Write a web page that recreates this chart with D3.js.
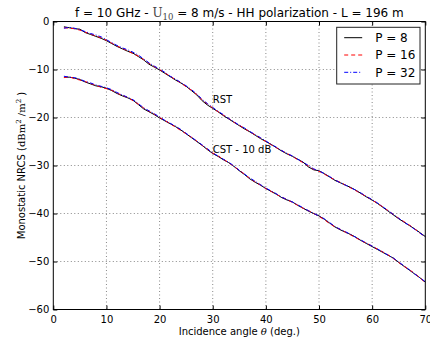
<!DOCTYPE html>
<html>
<head>
<meta charset="utf-8">
<script src="https://cdn.jsdelivr.net/npm/d3@7"></script>
<style>
  body { margin: 0; background: #fff; }
  text { font-family: "DejaVu Sans", sans-serif; fill: #000; }
  .serif { font-family: "DejaVu Serif", serif; }
</style>
</head>
<body>
<div id="chart"></div>
<script>
// incidence angles (deg.)
var angles = [2, 3, 4, 5, 6, 7, 8, 9, 10, 11,
    12, 13, 14, 15, 16, 17, 18, 19, 20, 21,
    22, 23, 24, 25, 26, 27, 28, 29, 30, 31,
    32, 33, 34, 35, 36, 37, 38, 39, 40, 41,
    42, 43, 44, 45, 46, 47, 48, 49, 50, 51,
    52, 53, 54, 55, 56, 57, 58, 59, 60, 61,
    62, 63, 64, 65, 66, 67, 68, 69, 70];

// RST curves
var rst8 = [-1.1, -1.3, -1.5, -1.6, -2.3, -2.7, -3.1, -3.5, -4.0, -4.6,
    -5.2, -5.7, -6.2, -6.6, -7.3, -8.0, -8.9, -9.5, -10.1, -10.8,
    -11.5, -12.2, -12.8, -13.5, -14.4, -15.3, -16.5, -17.4, -18.1, -18.8,
    -19.6, -20.3, -21.0, -21.7, -22.4, -23.0, -23.7, -24.4, -25.0, -25.6,
    -26.3, -27.0, -27.6, -28.1, -28.7, -29.3, -30.3, -30.9, -31.1, -31.7,
    -32.4, -33.1, -33.6, -34.1, -34.6, -35.2, -35.9, -36.6, -37.2, -37.9,
    -38.7, -39.5, -40.3, -41.1, -41.8, -42.5, -43.2, -44.0, -44.8];
var rst16 = [-1.3, -1.4, -1.5, -1.8, -2.2, -2.6, -3.0, -3.4, -3.9, -4.5,
    -5.1, -5.6, -6.1, -6.7, -7.2, -7.9, -8.7, -9.4, -10.0, -10.7,
    -11.4, -12.1, -12.8, -13.6, -14.3, -15.2, -16.3, -17.2, -18.0, -18.8,
    -19.5, -20.2, -21.0, -21.6, -22.3, -23.0, -23.6, -24.3, -25.0, -25.7,
    -26.3, -26.9, -27.5, -28.1, -28.8, -29.4, -30.1, -30.8, -31.2, -31.8,
    -32.4, -33.0, -33.5, -34.1, -34.7, -35.3, -35.9, -36.5, -37.2, -37.9,
    -38.6, -39.4, -40.2, -41.0, -41.7, -42.4, -43.2, -44.1, -44.9];
var rst32 = [-1.4, -1.2, -1.4, -1.7, -2.1, -2.5, -2.8, -3.2, -3.8, -4.4,
    -5.0, -5.5, -5.9, -6.4, -7.0, -7.8, -8.6, -9.3, -9.9, -10.6,
    -11.4, -12.0, -12.7, -13.4, -14.2, -15.1, -16.2, -17.1, -17.9, -18.7,
    -19.4, -20.2, -20.9, -21.6, -22.2, -22.9, -23.6, -24.2, -24.9, -25.6,
    -26.2, -26.9, -27.5, -28.0, -28.7, -29.3, -30.0, -30.7, -31.1, -31.7,
    -32.3, -33.0, -33.6, -34.1, -34.6, -35.2, -35.8, -36.5, -37.1, -37.8,
    -38.6, -39.4, -40.2, -41.0, -41.8, -42.5, -43.3, -44.1, -44.8];

// CST curves (shifted by -10 dB)
var cst8 = [-11.6, -11.6, -11.8, -12.1, -12.6, -13.0, -13.4, -13.6, -13.9, -14.4,
    -15.0, -15.5, -15.9, -16.4, -17.3, -18.2, -18.8, -19.4, -20.1, -20.7,
    -21.3, -21.9, -22.6, -23.4, -24.2, -25.0, -25.8, -26.7, -27.5, -28.1,
    -28.8, -29.4, -30.2, -31.1, -31.9, -32.8, -33.5, -34.1, -34.8, -35.4,
    -36.0, -36.7, -37.2, -37.6, -38.3, -38.9, -39.5, -40.0, -40.5, -41.2,
    -42.0, -42.8, -43.4, -43.9, -44.4, -45.0, -45.7, -46.3, -46.9, -47.5,
    -48.1, -48.7, -49.3, -50.2, -51.0, -51.8, -52.6, -53.4, -54.3];
var cst16 = [-11.7, -11.5, -11.9, -12.2, -12.5, -12.9, -13.3, -13.7, -14.0, -14.3,
    -14.9, -15.4, -15.8, -16.5, -17.2, -18.0, -18.7, -19.3, -20.0, -20.6,
    -21.3, -22.0, -22.7, -23.4, -24.1, -24.9, -25.8, -26.6, -27.4, -28.0,
    -28.7, -29.4, -30.2, -31.0, -31.8, -32.7, -33.4, -34.1, -34.8, -35.4,
    -36.0, -36.6, -37.1, -37.7, -38.3, -38.9, -39.4, -40.0, -40.6, -41.3,
    -42.1, -42.8, -43.3, -43.9, -44.5, -45.1, -45.7, -46.2, -46.8, -47.4,
    -48.0, -48.6, -49.4, -50.2, -51.0, -51.7, -52.5, -53.4, -54.4];
var cst32 = [-11.4, -11.6, -11.7, -12.0, -12.5, -12.8, -13.2, -13.5, -13.8, -14.2,
    -14.8, -15.3, -15.8, -16.3, -17.1, -18.0, -18.6, -19.2, -19.9, -20.6,
    -21.2, -21.8, -22.5, -23.3, -24.1, -24.9, -25.7, -26.5, -27.4, -28.0,
    -28.7, -29.3, -30.1, -31.0, -31.8, -32.6, -33.3, -34.0, -34.7, -35.3,
    -35.9, -36.6, -37.1, -37.6, -38.2, -38.8, -39.4, -40.0, -40.5, -41.1,
    -41.9, -42.7, -43.3, -43.8, -44.4, -45.0, -45.6, -46.2, -46.8, -47.4,
    -48.0, -48.7, -49.3, -50.1, -50.9, -51.7, -52.6, -53.4, -54.2];

var xTicks = [0, 10, 20, 30, 40, 50, 60, 70];
var yTicks = [0, -10, -20, -30, -40, -50, -60];
var legendLabels = ["P = 8", "P = 16", "P = 32"];

var margin = { top: 21.5, right: 4.7, bottom: 33.5, left: 53.3 };
var W = 430, H = 343;
var width = W - margin.left - margin.right;
var height = H - margin.top - margin.bottom;

var svg = d3.select("#chart").append("svg")
    .attr("width", W)
    .attr("height", H);

var g = svg.append("g")
    .attr("transform", "translate(" + margin.left + "," + margin.top + ")");

var x = d3.scaleLinear().domain([0, 70]).range([0, width]);
var y = d3.scaleLinear().domain([-60, 0]).range([height, 0]);

// grid
g.append("g").selectAll("line")
    .data(xTicks.slice(1, -1))
    .enter().append("line")
    .attr("x1", function (d) { return x(d); })
    .attr("x2", function (d) { return x(d); })
    .attr("y1", 0).attr("y2", height)
    .attr("stroke", "#888").attr("stroke-width", 1)
    .attr("stroke-dasharray", "1,2.5");
g.append("g").selectAll("line")
    .data(yTicks.slice(1, -1))
    .enter().append("line")
    .attr("y1", function (d) { return y(d); })
    .attr("y2", function (d) { return y(d); })
    .attr("x1", 0).attr("x2", width)
    .attr("stroke", "#888").attr("stroke-width", 1)
    .attr("stroke-dasharray", "1,2.5");

// axes (ticks pointing inwards like classic matplotlib)
var xAxis = g.append("g")
    .attr("transform", "translate(0," + height + ")")
    .call(d3.axisBottom(x).tickValues(xTicks).tickSizeInner(-4).tickSizeOuter(0).tickPadding(6));
var yAxis = g.append("g")
    .call(d3.axisLeft(y).tickValues(yTicks).tickSizeInner(-4).tickSizeOuter(0).tickPadding(4)
        .tickFormat(function (d) { return d < 0 ? "\u2212" + (-d) : d; }));
g.append("g")
    .call(d3.axisTop(x).tickValues(xTicks).tickSizeInner(-4).tickSizeOuter(0).tickFormat(""));
g.append("g")
    .attr("transform", "translate(" + width + ",0)")
    .call(d3.axisRight(y).tickValues(yTicks).tickSizeInner(-4).tickSizeOuter(0).tickFormat(""));

svg.selectAll(".domain").remove();
svg.selectAll(".tick line").attr("stroke", "#000");
svg.selectAll(".tick text")
    .style("font-family", "'DejaVu Sans', sans-serif")
    .style("font-size", "10px")
    .attr("fill", "#000");

// curves
var series = [
    { vals: rst8, color: "#000", dash: null },
    { vals: cst8, color: "#000", dash: null },
    { vals: rst16, color: "#ff0000", dash: "4,3" },
    { vals: cst16, color: "#ff0000", dash: "4,3" },
    { vals: rst32, color: "#0000ff", dash: "4,2,1,2" },
    { vals: cst32, color: "#0000ff", dash: "4,2,1,2" }
];

var line = d3.line()
    .x(function (d, i) { return x(angles[i]); })
    .y(function (d) { return y(d); });

var plot = g.append("g");
series.forEach(function (s) {
    plot.append("path")
        .datum(s.vals)
        .attr("d", line)
        .attr("fill", "none")
        .attr("stroke", s.color)
        .attr("stroke-width", 1)
        .attr("stroke-dasharray", s.dash);
});

// frame
g.append("rect")
    .attr("width", width).attr("height", height)
    .attr("fill", "none").attr("stroke", "#000").attr("stroke-width", 1);

// annotations
g.append("text")
    .attr("x", x(30)).attr("y", y(-17))
    .style("font-size", "10px")
    .text("RST");
g.append("text")
    .attr("x", x(30)).attr("y", y(-27.3))
    .style("font-size", "10px")
    .text("CST - 10 dB");

// title
var title = svg.append("text")
    .attr("x", margin.left + width / 2)
    .attr("y", 17.3)
    .attr("text-anchor", "middle")
    .style("font-size", "12px");
title.append("tspan").text("f = 10 GHz - ");
title.append("tspan").attr("class", "serif").attr("fill", "#444").text("U");
title.append("tspan").attr("class", "serif").attr("fill", "#444")
    .attr("dy", 2.5).style("font-size", "8.5px").text("10");
title.append("tspan").attr("dy", -2.5).text(" = 8 m/s - HH polarization - L = 196 m");

// x label
var xl = svg.append("text")
    .attr("x", margin.left + width / 2)
    .attr("y", 335)
    .attr("text-anchor", "middle")
    .style("font-size", "10px");
xl.append("tspan").text("Incidence angle ");
xl.append("tspan").attr("class", "serif").style("font-style", "italic").text("\u03b8");
xl.append("tspan").text(" (deg.)");

// y label
var yl = svg.append("text")
    .attr("transform", "translate(25," + (margin.top + height / 2) + ") rotate(-90)")
    .attr("text-anchor", "middle")
    .style("font-size", "10px");
yl.append("tspan").text("Monostatic NRCS (");
yl.append("tspan").attr("class", "serif").text("dBm");
yl.append("tspan").attr("class", "serif").attr("dy", -4).style("font-size", "7px").text("2");
yl.append("tspan").attr("class", "serif").attr("dy", 4).text(" /m");
yl.append("tspan").attr("class", "serif").attr("dy", -4).style("font-size", "7px").text("2");
yl.append("tspan").attr("dy", 4).text(" )");

// legend
var lg = g.append("g")
    .attr("transform", "translate(" + (336.7 - margin.left) + "," + (27.3 - margin.top) + ")");
lg.append("rect")
    .attr("width", 83.3).attr("height", 56.7)
    .attr("fill", "#fff").attr("stroke", "#222").attr("stroke-width", 1);
var lgItems = lg.selectAll(".legend")
    .data(legendLabels)
    .enter().append("g")
    .attr("class", "legend")
    .attr("transform", function (d, i) { return "translate(0," + (10.4 + i * 17.3) + ")"; });
lgItems.append("line")
    .attr("x1", 7.5).attr("x2", 25.5)
    .attr("stroke", function (d, i) { return series[i * 2].color; })
    .attr("stroke-dasharray", function (d, i) { return series[i * 2].dash; })
    .attr("stroke-width", 1);
lgItems.append("text")
    .attr("x", 38.5).attr("dy", "0.36em")
    .style("font-size", "12px")
    .text(function (d) { return d; });
</script>
</body>
</html>
